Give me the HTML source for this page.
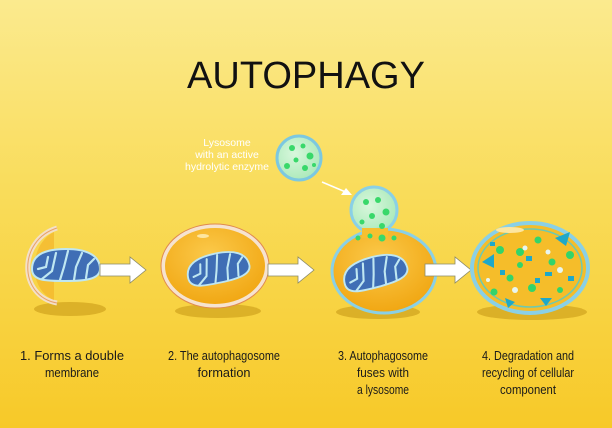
<!DOCTYPE html>
<html><head><meta charset="utf-8"><style>
html,body{margin:0;padding:0;width:612px;height:428px;overflow:hidden}
svg{display:block}
text{font-family:"Liberation Sans",Arial,sans-serif}
</style></head><body>
<svg width="612" height="428" viewBox="0 0 612 428" xmlns="http://www.w3.org/2000/svg">
<defs>
<linearGradient id="bg" x1="0" y1="0" x2="0" y2="1">
<stop offset="0" stop-color="#fbea8e"/>
<stop offset="0.45" stop-color="#f9dc5a"/>
<stop offset="1" stop-color="#f7c928"/>
</linearGradient>
<radialGradient id="cell" cx="0.45" cy="0.35" r="0.7">
<stop offset="0" stop-color="#fbc94a"/>
<stop offset="1" stop-color="#f0a40e"/>
</radialGradient>
<radialGradient id="lyso" cx="0.4" cy="0.4" r="0.7">
<stop offset="0" stop-color="#d8f7dc"/>
<stop offset="1" stop-color="#a6e8b6"/>
</radialGradient>
<g id="mito">
<path d="M-34,4 C-34,-12 -18,-16 0,-16 C20,-16 34,-10 34,4 C34,14 20,16 0,16 C-20,16 -34,16 -34,4 Z" fill="#3f6eb5" stroke="#bfe7f2" stroke-width="2"/>
<path d="M-28,4 L-20,2 L-18,-8 M-24,14 L-14,6 L-10,-12 M-6,15 L-2,2 L2,-14 M8,15 L10,2 L16,-12 M20,13 L22,0 L28,-6" stroke="#bfe7f2" stroke-width="2.2" fill="none" stroke-linecap="round"/>
</g>
<g id="arr">
<path d="M0,-6 L30,-6 L30,-13 L46,0 L30,13 L30,6 L0,6 Z" fill="#fff" stroke="#8a8a6a" stroke-width="0.8"/>
</g>
</defs>
<rect width="612" height="428" fill="url(#bg)"/>
<text x="306" y="88" font-size="38" text-anchor="middle" fill="#111">AUTOPHAGY</text>
<g font-size="10.5" fill="#fff" text-anchor="middle">
<text x="227" y="146">Lysosome</text>
<text x="227" y="158">with an active</text>
<text x="227" y="170">hydrolytic enzyme</text>
</g>
<circle cx="299" cy="158" r="22" fill="url(#lyso)" stroke="#7cc8e0" stroke-width="3"/>
<g fill="#38d86a"><circle cx="292" cy="148" r="3"/><circle cx="303" cy="146" r="2.5"/><circle cx="310" cy="156" r="3.5"/><circle cx="296" cy="160" r="2.5"/><circle cx="287" cy="166" r="3"/><circle cx="305" cy="168" r="3"/><circle cx="314" cy="165" r="2"/></g>
<path d="M322,182 L348,193" stroke="#fff" stroke-width="1.5"/>
<path d="M352,195 L341,195 L346,188 Z" fill="#fff"/>
<g fill="#c99b18" opacity="0.6">
<ellipse cx="70" cy="309" rx="36" ry="7"/>
<ellipse cx="218" cy="311" rx="43" ry="7"/>
<ellipse cx="378" cy="312" rx="42" ry="7"/>
<ellipse cx="532" cy="312" rx="55" ry="8"/>
</g>
<path d="M57,228 C18,240 18,296 57,303" fill="none" stroke="#f3e0c8" stroke-width="5"/>
<path d="M57,228 C18,240 18,296 57,303" fill="none" stroke="#e8a06a" stroke-width="1"/>
<path d="M54,232 C28,245 28,290 54,300 Z" fill="#f3b52a" opacity="0.7"/>
<use href="#mito" x="66" y="265"/>
<use href="#arr" x="100" y="270"/>
<ellipse cx="215" cy="266" rx="52" ry="40" fill="url(#cell)" stroke="#f6e3cf" stroke-width="4"/>
<ellipse cx="215" cy="266" rx="54" ry="42" fill="none" stroke="#e08a50" stroke-width="1"/>
<ellipse cx="203" cy="236" rx="6" ry="2" fill="#fde6a0"/>
<use href="#mito" transform="translate(218,268) rotate(-12) scale(0.92)"/>
<use href="#arr" x="268" y="270"/>
<circle cx="374" cy="210" r="23" fill="url(#lyso)" stroke="#8ad0e6" stroke-width="3"/>
<ellipse cx="384" cy="271" rx="52" ry="42" fill="url(#cell)" stroke="#8ad0e6" stroke-width="3"/>
<rect x="362" y="228" width="26" height="10" fill="#f6c030"/>
<g fill="#38d86a"><circle cx="366" cy="202" r="3"/><circle cx="378" cy="200" r="3"/><circle cx="386" cy="212" r="3.5"/><circle cx="372" cy="216" r="3"/><circle cx="362" cy="222" r="2.5"/><circle cx="382" cy="226" r="3"/><circle cx="358" cy="238" r="2.5"/><circle cx="370" cy="236" r="2.5"/><circle cx="382" cy="238" r="3.5"/><circle cx="394" cy="238" r="2.5"/></g>
<use href="#mito" transform="translate(375,272) rotate(-15) scale(0.95)"/>
<use href="#arr" x="425" y="270"/>
<ellipse cx="530" cy="268" rx="58" ry="45" fill="#f5bd2a" stroke="#8ad0e6" stroke-width="4"/>
<ellipse cx="530" cy="268" rx="52" ry="39" fill="none" stroke="#6ec9b0" stroke-width="1.5"/>
<ellipse cx="510" cy="230" rx="14" ry="3" fill="#fde6a0"/>
<g fill="#33d46a"><circle cx="500" cy="250" r="4"/><circle cx="520" cy="252" r="4"/><circle cx="538" cy="240" r="3.5"/><circle cx="552" cy="262" r="3.5"/><circle cx="570" cy="255" r="4"/><circle cx="510" cy="278" r="3.5"/><circle cx="532" cy="288" r="4"/><circle cx="494" cy="292" r="3.5"/><circle cx="560" cy="290" r="3"/><circle cx="520" cy="265" r="3"/></g>
<g fill="#1fa8c8"><path d="M482,262 L494,254 L494,268 Z"/><path d="M555,238 L570,232 L566,246 Z"/><path d="M540,298 L552,298 L546,306 Z"/><path d="M505,298 L515,302 L508,308 Z"/><rect x="526" y="256" width="6" height="5"/><rect x="545" y="272" width="7" height="4"/><rect x="500" y="270" width="5" height="5"/><rect x="568" y="276" width="6" height="5"/><rect x="490" y="242" width="5" height="4"/><rect x="535" y="278" width="5" height="5"/></g>
<g fill="#e8f6f0"><circle cx="525" cy="248" r="2.5"/><circle cx="548" cy="252" r="2.5"/><circle cx="515" cy="290" r="3"/><circle cx="560" cy="270" r="3"/><circle cx="488" cy="280" r="2"/></g>
<g font-size="13" fill="#1a1a1a" text-anchor="middle">
<text x="72" y="360" textLength="104" lengthAdjust="spacingAndGlyphs">1. Forms a double</text>
<text x="72" y="377" textLength="54" lengthAdjust="spacingAndGlyphs">membrane</text>
<text x="224" y="360" textLength="112" lengthAdjust="spacingAndGlyphs">2. The autophagosome</text>
<text x="224" y="377" textLength="53" lengthAdjust="spacingAndGlyphs">formation</text>
<text x="383" y="360" textLength="90" lengthAdjust="spacingAndGlyphs">3. Autophagosome</text>
<text x="383" y="377" textLength="52" lengthAdjust="spacingAndGlyphs">fuses with</text>
<text x="383" y="394" textLength="52" lengthAdjust="spacingAndGlyphs">a lysosome</text>
<text x="528" y="360" textLength="92" lengthAdjust="spacingAndGlyphs">4. Degradation and</text>
<text x="528" y="377" textLength="92" lengthAdjust="spacingAndGlyphs">recycling of cellular</text>
<text x="528" y="394" textLength="56" lengthAdjust="spacingAndGlyphs">component</text>
</g>
</svg>
</body></html>
